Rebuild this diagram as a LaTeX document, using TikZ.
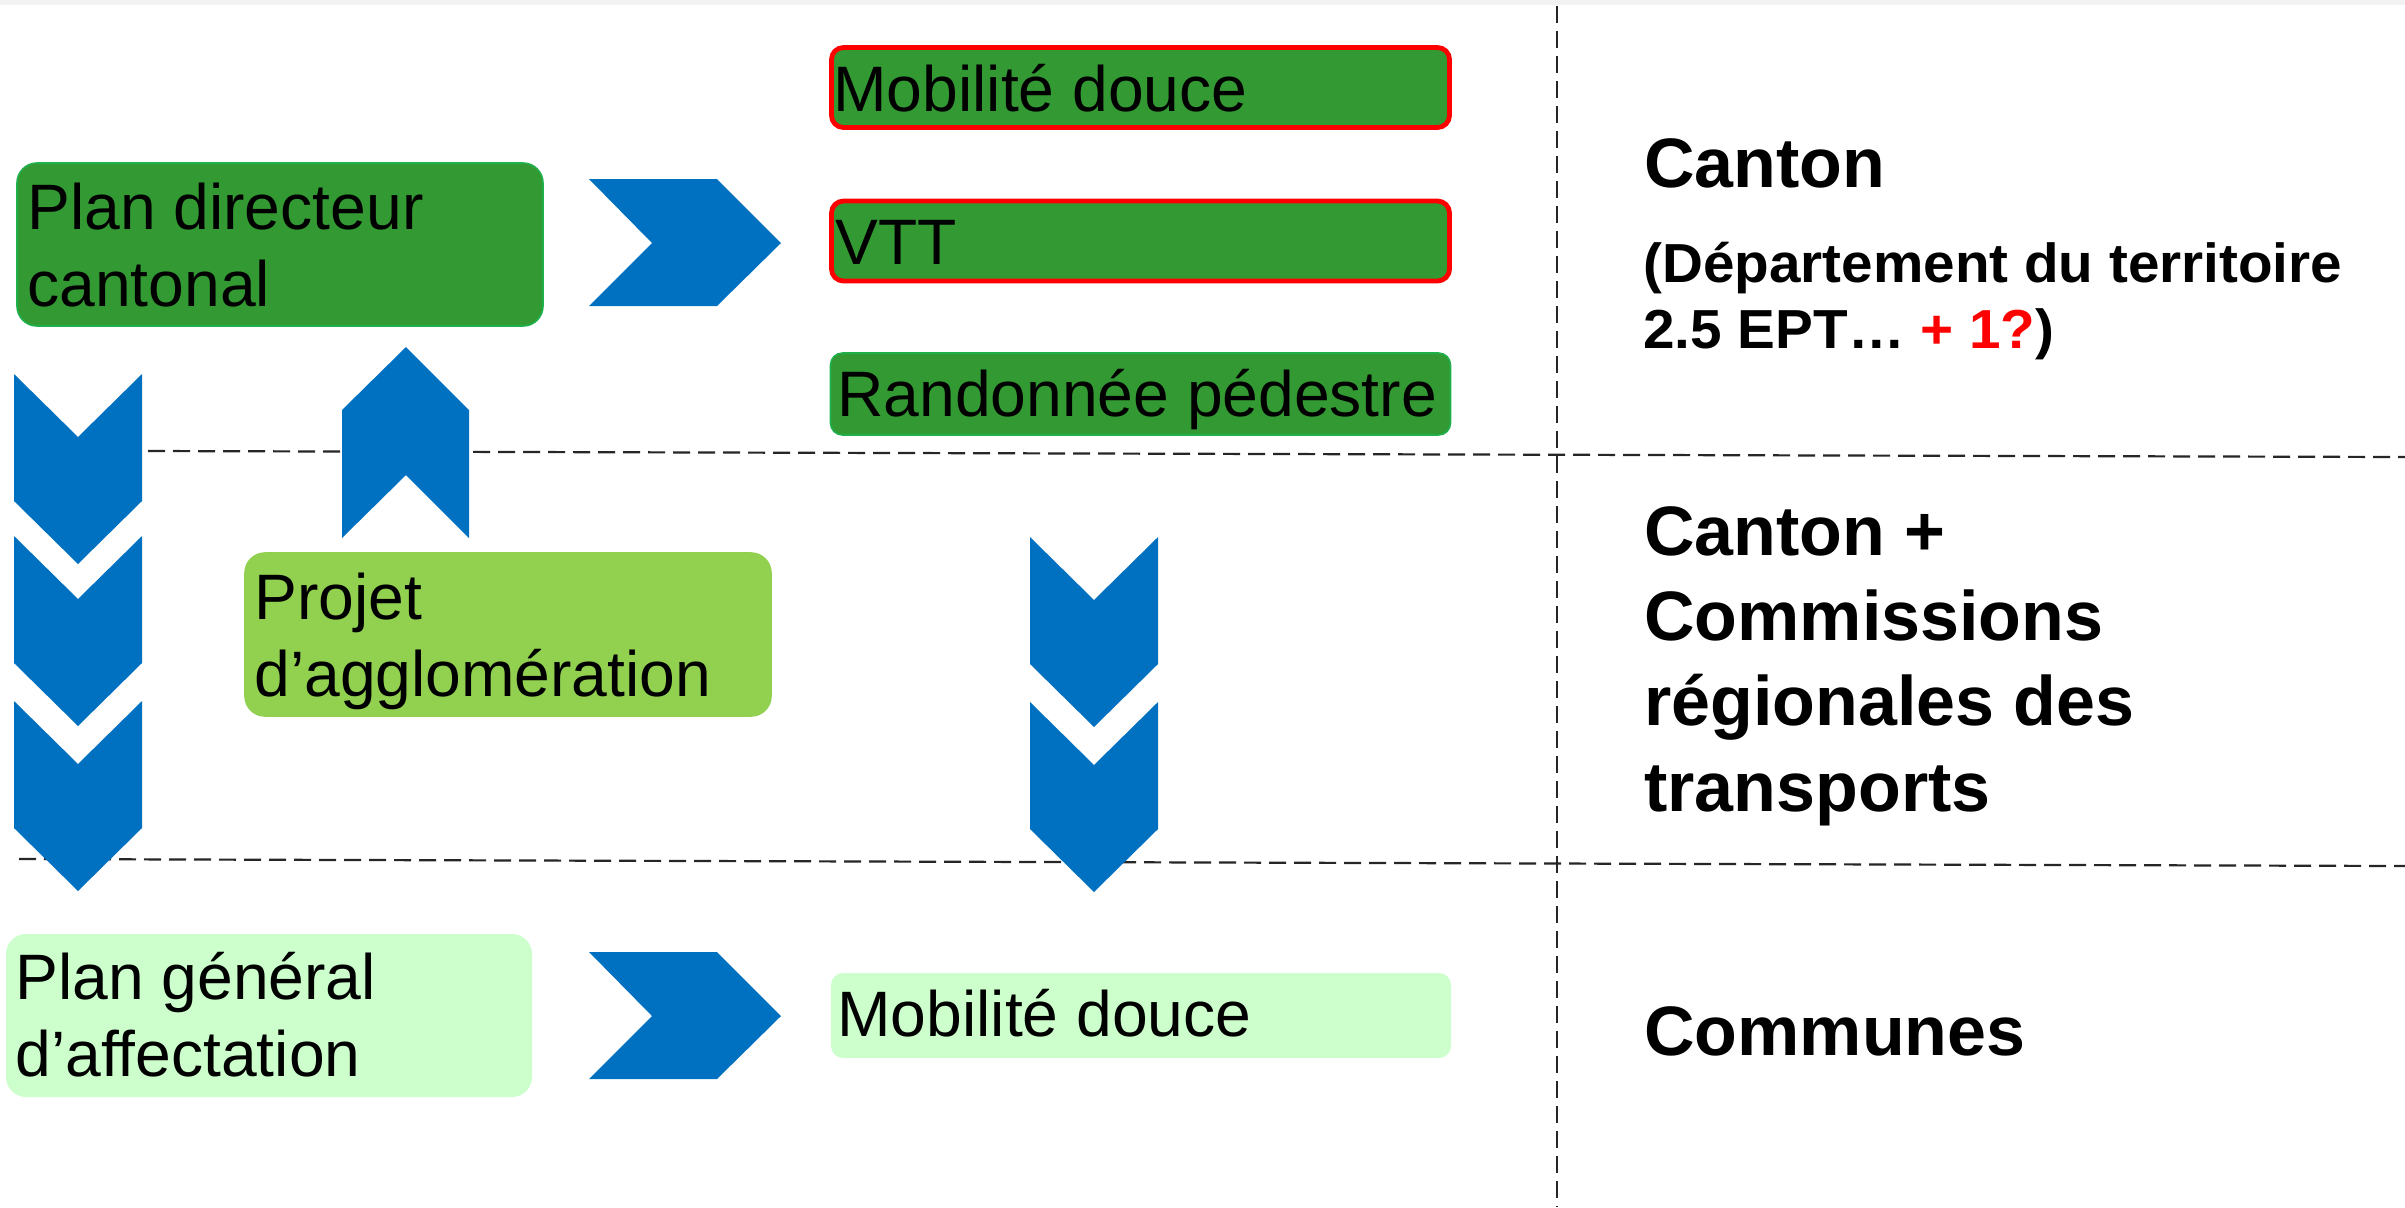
\documentclass[tikz,border=0pt]{standalone}
\usepackage{fontspec}
\setmainfont{Liberation Sans}
\newfontfamily\widefont[FakeStretch=1.03]{Liberation Sans}
\definecolor{dgreen}{HTML}{339933}
\definecolor{egreen}{HTML}{1FAF4B}
\definecolor{lgreen}{HTML}{92D050}
\definecolor{pgreen}{HTML}{CCFFCC}
\definecolor{cblue}{HTML}{0070C0}
\definecolor{cred}{HTML}{FF0000}
\definecolor{band}{HTML}{F2F2F2}
\begin{document}
\begin{tikzpicture}[x=0.5pt,y=-0.5pt,
  bigbox/.style={rounded corners=10pt, minimum width=263pt, minimum height=81.5pt, inner sep=0pt},
  smallbox/.style={rounded corners=6pt, minimum width=310pt, minimum height=41pt, inner sep=0pt},
  redbox/.style={smallbox, fill=dgreen, draw=cred, line width=2.4pt, minimum width=309pt, minimum height=40pt},
  txt/.style={anchor=base west, inner sep=0pt, font=\fontsize{32.1}{38}\selectfont},
  htxt/.style={anchor=base west, inner sep=0pt, font=\fontsize{35}{42}\selectfont\bfseries},
  stxt/.style={anchor=base west, inner sep=0pt, font=\widefont\fontsize{27.5}{33}\selectfont\bfseries},
  sep/.style={draw=black!85, line width=1.1pt, dash pattern=on 8.5pt off 4pt},
  pics/chevdown/.style={code={\fill[cblue] (0,0) -- (64,63) -- (128,0) -- (128,127) -- (64,190) -- (0,127) -- cycle;}},
  pics/chevright/.style={code={\fill[cblue] (0,0) -- (128,0) -- (192,64) -- (128,127) -- (0,127) -- (63,64) -- cycle;}},
  pics/chevup/.style={code={\fill[cblue] (64,0) -- (127,63) -- (127,191) -- (64,128) -- (0,191) -- (0,63) -- cycle;}}
]
\useasboundingbox (0,0) rectangle (2405,1207);
\fill[white] (0,0) rectangle (2405,1207);
\fill[band] (0,0) rectangle (2405,5);

% separators
\coordinate (h1a) at (148,451);
\coordinate (h1b) at (2405,457);
\coordinate (h2a) at (19,859);
\coordinate (h2b) at (2405,866);
\coordinate (va) at (1557,6);
\coordinate (vb) at (1557,1207);
\draw[sep] (h1a) -- (h1b);
\draw[sep] (h2a) -- (h2b);
\draw[sep] (va) -- (vb);

% boxes
\node[bigbox, fill=dgreen, draw=egreen, line width=0.8pt] (pdc) at (280,244.5) {};
\node[bigbox, fill=lgreen, draw=lgreen, line width=0.8pt] (pa) at (508,634.5) {};
\node[bigbox, fill=pgreen] (pga) at (269,1015.5) {};
\node[redbox] (md1) at (1140.5,87.5) {};
\node[redbox] (vtt) at (1140.5,241) {};
\node[smallbox, fill=dgreen, draw=egreen, line width=0.8pt] (rp) at (1140.5,394) {};
\node[smallbox, fill=pgreen, minimum height=42.5pt] (md2) at (1141,1015.5) {};

% box texts
\node[txt] (t1) at (27,229.6) {Plan directeur};
\node[txt] (t2) at (27,306) {cantonal};
\node[txt] (t3) at (254,619.5) {Projet};
\node[txt] (t4) at (254,696) {d’agglomération};
\node[txt] (t5) at (15,999.6) {Plan général};
\node[txt] (t6) at (15,1076) {d’affectation};
\node[txt] (t7) at (833,111) {Mobilité douce};
\node[txt] (t8) at (835,264) {VTT};
\node[txt] (t9) at (837,416) {Randonnée pédestre};
\node[txt] (t10) at (837,1036.6) {Mobilité douce};

% right column
\node[htxt] (r1) at (1644,187.5) {Canton};
\node[stxt] (r2) at (1643,282) {(Département du territoire};
\node[stxt] (r3) at (1643,348.5) {2.5 EPT… \textcolor{cred}{+ 1?})};
\node[htxt] (r4) at (1644,555) {Canton +};
\node[htxt] (r5) at (1644,640) {Commissions};
\node[htxt] (r6) at (1644,725) {régionales des};
\node[htxt] (r7) at (1644,811) {transports};
\node[htxt] (r8) at (1644,1055) {Communes};

% chevrons
\pic at (589,179) {chevright};
\pic at (589,952) {chevright};
\pic at (342,347) {chevup};
\pic at (14,374) {chevdown};
\pic at (14,536) {chevdown};
\pic at (14,701) {chevdown};
\pic at (1030,537) {chevdown};
\pic at (1030,702) {chevdown};
\end{tikzpicture}
\end{document}
